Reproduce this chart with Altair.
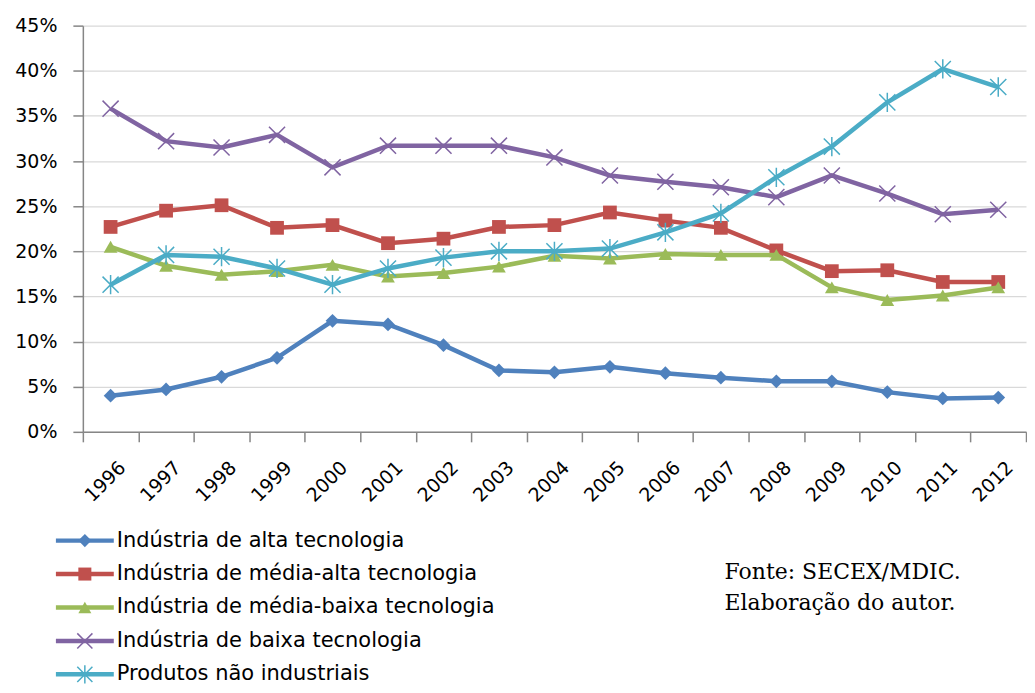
import altair as alt
import pandas as pd

# ---- data (in %) ----
years = [str(y) for y in range(1996, 2013)]
series_names = [
    "Indústria de alta tecnologia",
    "Indústria de média-alta tecnologia",
    "Indústria de média-baixa tecnologia",
    "Indústria de baixa tecnologia",
    "Produtos não industriais",
]
alta = [4.0, 4.7, 6.1, 8.2, 12.3, 11.9, 9.6, 6.8, 6.6, 7.2, 6.5, 6.0, 5.6, 5.6, 4.4, 3.7, 3.8]
media_alta = [22.7, 24.5, 25.1, 22.6, 22.9, 20.9, 21.4, 22.7, 22.9, 24.3, 23.4, 22.6, 20.1, 17.8, 17.9, 16.6, 16.6]
media_baixa = [20.5, 18.4, 17.4, 17.8, 18.5, 17.2, 17.6, 18.3, 19.5, 19.2, 19.7, 19.6, 19.6, 16.0, 14.6, 15.1, 16.0]
baixa = [35.8, 32.2, 31.5, 32.9, 29.3, 31.7, 31.7, 31.7, 30.4, 28.4, 27.7, 27.1, 26.0, 28.4, 26.4, 24.1, 24.6]
nao_industriais = [16.3, 19.6, 19.4, 18.1, 16.3, 18.1, 19.3, 20.0, 20.0, 20.3, 22.1, 24.2, 28.2, 31.6, 36.5, 40.2, 38.2]
y_ticks = [0, 0.05, 0.10, 0.15, 0.20, 0.25, 0.30, 0.35, 0.40, 0.45]
notes = ["Fonte: SECEX/MDIC.\nElaboração do autor."]

colors = ["#4F81BD", "#C0504D", "#9BBB59", "#8064A2", "#4BACC6"]
X_PATH = "M-1,-1L1,1M-1,1L1,-1"
AST_PATH = "M-1,-1L1,1M-1,1L1,-1M0,-1.2L0,1.2"
shapes = ["diamond", "square", "triangle-up", X_PATH, AST_PATH]
filled = [True, True, True, False, False]

all_values = [alta, media_alta, media_baixa, baixa, nao_industriais]
rows = []
for name, vals in zip(series_names, all_values):
    for yr, v in zip(years, vals):
        rows.append({"serie": name, "ano": yr, "valor": v / 100})
df = pd.DataFrame(rows)

FONT = "DejaVu Sans"
color_scale = alt.Scale(domain=series_names, range=colors)
shape_scale = alt.Scale(domain=series_names, range=shapes)

x_enc = alt.X(
    "ano:O",
    scale=alt.Scale(type="band", paddingInner=0, paddingOuter=0),
    bandPosition=0.5,
    axis=alt.Axis(
        title=None, labelAngle=-45, labelAlign="right", labelBaseline="top",
        tickBand="extent", grid=False, tickSize=10, labelPadding=16,
        labelOffset=5, labelFontSize=19,
    ),
)
y_enc = alt.Y(
    "valor:Q",
    scale=alt.Scale(domain=[0, 0.45], nice=False),
    axis=alt.Axis(
        title=None, values=y_ticks, format=".0%", tickSize=10,
        labelPadding=16, labelFontSize=19,
    ),
)
c_enc = alt.Color("serie:N", scale=color_scale, legend=None)
s_enc = alt.Shape("serie:N", scale=shape_scale, legend=None)

layers = []
for name, fill in zip(series_names, filled):
    sub = alt.Chart(df).transform_filter(alt.datum.serie == name)
    layers.append(sub.mark_line(strokeWidth=4.5).encode(x=x_enc, y=y_enc, color=c_enc))
    if fill:
        pt = sub.mark_point(filled=True, size=190, opacity=1).encode(
            x=x_enc, y=y_enc, color=c_enc, shape=s_enc)
    else:
        pt = sub.mark_point(filled=False, size=260, strokeWidth=1.5, opacity=1).encode(
            x=x_enc, y=y_enc, color=c_enc, shape=s_enc)
    layers.append(pt)

main = alt.layer(*layers).properties(width=945, height=407)

# ---- custom legend (line + marker per series) ----
leg_df = pd.DataFrame({"serie": series_names})
y_leg = alt.Y("serie:N", sort=series_names,
              scale=alt.Scale(type="point", padding=0), axis=None)
leg_base = alt.Chart(leg_df)
leg_rule = leg_base.mark_rule(strokeWidth=4.5).encode(
    x=alt.value(-27), x2=alt.value(31), y=y_leg, color=c_enc)
leg_pts_f = leg_base.transform_filter(
    alt.FieldOneOfPredicate(field="serie", oneOf=series_names[:3])
).mark_point(filled=True, size=170, opacity=1).encode(
    x=alt.value(2), y=y_leg, color=c_enc, shape=s_enc)
leg_pts_s = leg_base.transform_filter(
    alt.FieldOneOfPredicate(field="serie", oneOf=series_names[3:])
).mark_point(filled=False, size=230, strokeWidth=1.5, opacity=1).encode(
    x=alt.value(2), y=y_leg, color=c_enc, shape=s_enc)
leg_text = leg_base.mark_text(
    align="left", baseline="middle", font=FONT, fontSize=21, color="#000000"
).encode(x=alt.value(34), y=y_leg, text="serie:N")
note = alt.Chart(pd.DataFrame({"nota": notes})).mark_text(
    align="left", baseline="alphabetic", font="DejaVu Serif", fontSize=22,
    lineBreak="\n", lineHeight=32, color="#000000"
).encode(x=alt.value(643), y=alt.value(38), text="nota:N")

legend = alt.layer(leg_rule, leg_pts_f, leg_pts_s, leg_text, note).properties(
    width=945, height=134)

chart = alt.vconcat(main, legend, spacing=24).properties(
    padding={"left": 6, "top": 8, "right": 0, "bottom": 0}
).configure_view(stroke=None).configure_axis(
    labelFont=FONT, labelColor="#000000", domainColor="#868686",
    tickColor="#868686", gridColor="#D9D9D9", gridWidth=1.3,
    domainWidth=1.5, tickWidth=1.5,
)

chart.save("out.html", embed_options={"renderer": "svg", "actions": False})
